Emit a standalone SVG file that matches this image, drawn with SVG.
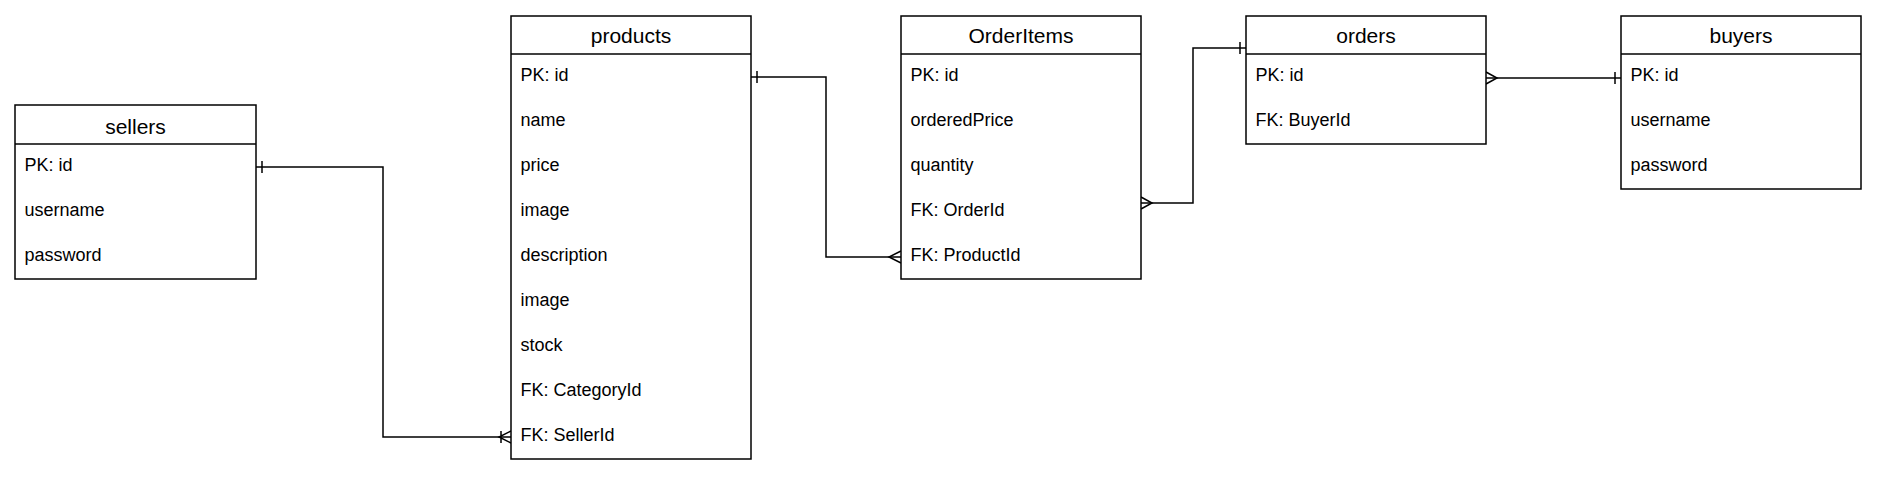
<svg xmlns="http://www.w3.org/2000/svg" width="1877" height="480" viewBox="0 0 1877 480">
<defs>
<style>
.box{fill:#fff;stroke:#000;stroke-width:1.5}
.sep{stroke:#000;stroke-width:1.5}
.h{font-family:"Liberation Sans",Arial,sans-serif;font-size:21px;fill:#000;text-anchor:middle}
.r{font-family:"Liberation Sans",Arial,sans-serif;font-size:18px;fill:#000}
.c{fill:none;stroke:#000;stroke-width:1.5}
</style>
</defs>
<rect width="1877" height="480" fill="#fff"/>
<g id="connectors">
<path class="c" d="M256,167 H383 V437 H511"/>
<path class="c" d="M262,161 V173"/>
<path class="c" d="M511,431 L499,437 L511,443 M501,431 V443"/>
<path class="c" d="M751,77 H826 V257 H901"/>
<path class="c" d="M757,71 V83"/>
<path class="c" d="M901,251 L889,257 L901,263"/>
<path class="c" d="M1141,203 H1193 V48 H1246"/>
<path class="c" d="M1141,197 L1152,203 L1141,209"/>
<path class="c" d="M1240,42 V54"/>
<path class="c" d="M1486,78 H1621"/>
<path class="c" d="M1486,72 L1497,78 L1486,84"/>
<path class="c" d="M1615,72 V84"/>
</g>
<g id="sellers">
<rect class="box" x="15" y="105" width="241" height="174"/>
<line class="sep" x1="15" y1="144" x2="256" y2="144"/>
<text class="h" x="135.5" y="133.5">sellers</text>
<text class="r" x="24.5" y="170.5">PK: id</text>
<text class="r" x="24.5" y="215.5">username</text>
<text class="r" x="24.5" y="260.5">password</text>
</g>
<g id="products">
<rect class="box" x="511" y="16" width="240" height="443"/>
<line class="sep" x1="511" y1="54" x2="751" y2="54"/>
<text class="h" x="631" y="43">products</text>
<text class="r" x="520.5" y="80.5">PK: id</text>
<text class="r" x="520.5" y="125.5">name</text>
<text class="r" x="520.5" y="170.5">price</text>
<text class="r" x="520.5" y="215.5">image</text>
<text class="r" x="520.5" y="260.5">description</text>
<text class="r" x="520.5" y="305.5">image</text>
<text class="r" x="520.5" y="350.5">stock</text>
<text class="r" x="520.5" y="395.5">FK: CategoryId</text>
<text class="r" x="520.5" y="440.5">FK: SellerId</text>
</g>
<g id="orderitems">
<rect class="box" x="901" y="16" width="240" height="263"/>
<line class="sep" x1="901" y1="54" x2="1141" y2="54"/>
<text class="h" x="1021" y="43">OrderItems</text>
<text class="r" x="910.5" y="80.5">PK: id</text>
<text class="r" x="910.5" y="125.5">orderedPrice</text>
<text class="r" x="910.5" y="170.5">quantity</text>
<text class="r" x="910.5" y="215.5">FK: OrderId</text>
<text class="r" x="910.5" y="260.5">FK: ProductId</text>
</g>
<g id="orders">
<rect class="box" x="1246" y="16" width="240" height="128"/>
<line class="sep" x1="1246" y1="54" x2="1486" y2="54"/>
<text class="h" x="1366" y="43">orders</text>
<text class="r" x="1255.5" y="80.5">PK: id</text>
<text class="r" x="1255.5" y="125.5">FK: BuyerId</text>
</g>
<g id="buyers">
<rect class="box" x="1621" y="16" width="240" height="173"/>
<line class="sep" x1="1621" y1="54" x2="1861" y2="54"/>
<text class="h" x="1741" y="43">buyers</text>
<text class="r" x="1630.5" y="80.5">PK: id</text>
<text class="r" x="1630.5" y="125.5">username</text>
<text class="r" x="1630.5" y="170.5">password</text>
</g>
</svg>
